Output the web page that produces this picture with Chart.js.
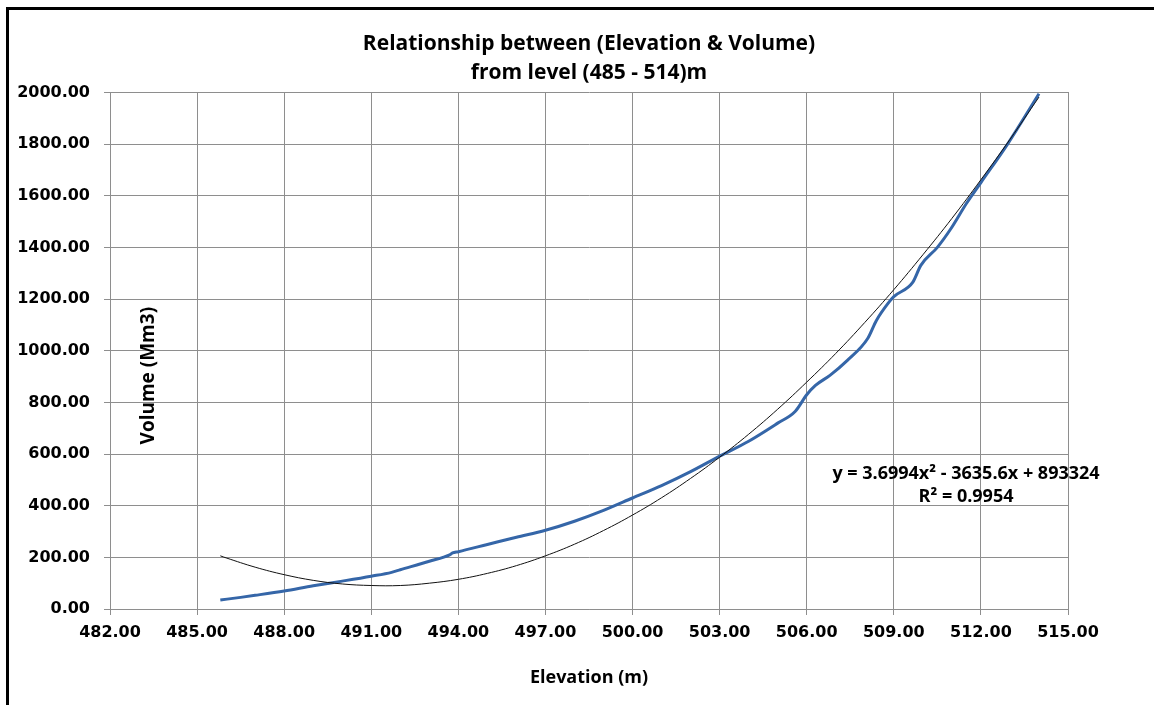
<!DOCTYPE html>
<html lang="en">
  <head>
    <meta charset="UTF-8" />
    <title>Elevation & Volume</title>
    <script src="https://cdn.jsdelivr.net/npm/chart.js"></script>
    <style>
      html,
      body {
        margin: 0;
        padding: 0;
        background: #fff;
      }
      .frame {
        position: absolute;
        left: 6px;
        top: 7px;
        width: 1200px;
        height: 800px;
        border-left: 3px solid #000;
        border-top: 3px solid #000;
      }
      .wrap {
        position: relative;
        width: 1154px;
        height: 705px;
        overflow: hidden;
      }
      canvas {
        position: absolute;
        left: 0;
        top: 0;
      }
    </style>
  </head>
  <body>
    <div class="wrap">
      <div class="frame"></div>
      <canvas id="myChart" width="1154" height="705"></canvas>
    </div>
    <script>
      const chartTitle = [
        "Relationship between (Elevation & Volume)",
        "from level (485 - 514)m",
      ];
      const xTitle = "Elevation (m)";
      const yTitle = "Volume (Mm3)";
      const equationLines = ["y = 3.6994x\u00b2 - 3635.6x + 893324", "R\u00b2 = 0.9954"];

      const elevation = [
        485.8, 486.5, 487, 488, 489, 490, 491, 491.7, 492, 493, 493.7, 493.8,
        494, 495, 496, 497, 498, 499, 500, 501, 502, 503, 504, 505, 505.6,
        506, 506.3, 506.8, 507.4, 508.1, 508.4, 508.8, 509, 509.65, 509.93,
        510.5, 510.97, 511.5, 512, 512.93, 514,
      ];
      const volume = [
        35, 45, 53, 70, 90, 108, 127, 142, 152, 185, 210, 217, 222, 250, 278,
        305, 340, 382, 430, 478, 532, 592, 650, 720, 765, 830, 866, 905, 963,
        1048, 1118, 1184, 1210, 1265, 1331, 1401, 1474, 1571, 1652, 1803, 1996,
      ];

      // polynomial trend line
      const trendElevation = [
        485.8, 486, 487, 488, 489, 490, 491, 492, 493, 494, 495, 496, 497, 498,
        499, 500, 501, 502, 503, 504, 505, 506, 507, 508, 509, 510, 511, 512,
        513, 514,
      ];
      const trendVolume = [
        206, 198, 162, 133, 111, 97, 91, 91, 100, 115, 138, 168, 206, 251, 304,
        364, 431, 506, 588, 677, 774, 879, 990, 1110, 1237, 1372, 1513, 1663,
        1819, 1983,
      ];

      const xMin = 482;
      const xMax = 515;
      const xStep = 3;
      const yMin = 0;
      const yMax = 2000;
      const yStep = 200;

      const narrowFont = "'Open Sans', sans-serif";
      const tickFont = { family: "'DejaVu Sans', sans-serif", size: 16, weight: "bold" };
      const gridColor = "#8e8e8e";

      const toPoints = (xs, ys) => xs.map((x, i) => ({ x: x, y: ys[i] }));

      // y title sits inside the plot, plus the trend equation
      const extraText = {
        id: "extraText",
        afterDatasetsDraw(chart) {
          const { ctx, chartArea } = chart;
          ctx.save();
          ctx.fillStyle = "#000";
          ctx.textAlign = "center";
          ctx.textBaseline = "middle";
          ctx.font = "bold 19px " + narrowFont;
          ctx.translate(chartArea.left + 39, chartArea.top + 283);
          ctx.rotate(-Math.PI / 2);
          ctx.fillText(yTitle, 0, 0);
          ctx.restore();

          ctx.save();
          ctx.fillStyle = "#000";
          ctx.textAlign = "center";
          ctx.textBaseline = "middle";
          ctx.font = "bold 18px " + narrowFont;
          ctx.fillText(equationLines[0], chartArea.left + 856, chartArea.top + 381);
          ctx.fillText(equationLines[1], chartArea.left + 856, chartArea.top + 404);
          ctx.restore();
        },
      };

      const ctx = document.getElementById("myChart").getContext("2d");
      const myChart = new Chart(ctx, {
        type: "scatter",
        data: {
          datasets: [
            {
              label: "Poly. (Volume)",
              data: toPoints(trendElevation, trendVolume),
              showLine: true,
              borderColor: "#111",
              borderWidth: 1,
              pointRadius: 0,
              tension: 0.4,
            },
            {
              label: "Volume",
              data: toPoints(elevation, volume),
              showLine: true,
              borderColor: "#3566a8",
              borderWidth: 3,
              pointRadius: 0,
              cubicInterpolationMode: "monotone",
            },
          ],
        },
        options: {
          responsive: false,
          animation: false,
          // shifted so the title centres over the plot area
          layout: { padding: { left: 12, right: -12, top: 0, bottom: 0 } },
          plugins: {
            legend: { display: false },
            tooltip: { enabled: false },
            title: {
              display: true,
              text: chartTitle,
              color: "#000",
              font: { family: narrowFont, size: 21, weight: "bold", lineHeight: 1.35 },
              padding: { top: 30, bottom: 6 },
            },
          },
          scales: {
            x: {
              type: "linear",
              min: xMin,
              max: xMax,
              ticks: {
                stepSize: xStep,
                color: "#000",
                font: tickFont,
                padding: 8,
                maxRotation: 0,
                callback: (v) => v.toFixed(2),
              },
              grid: { color: gridColor, tickLength: 6 },
              border: { color: gridColor },
              title: {
                display: true,
                text: xTitle,
                color: "#000",
                font: { family: narrowFont, size: 18, weight: "bold", lineHeight: 1.2 },
                padding: { top: 0, bottom: 16 },
              },
              afterFit: (scale) => {
                scale.height = 96;
              },
            },
            y: {
              min: yMin,
              max: yMax,
              ticks: {
                stepSize: yStep,
                color: "#000",
                font: tickFont,
                padding: 14,
                callback: (v) => v.toFixed(2),
              },
              grid: { color: gridColor, tickLength: 6 },
              border: { color: gridColor },
              afterFit: (scale) => {
                scale.width = 98;
              },
            },
            yRight: {
              position: "right",
              display: true,
              min: yMin,
              max: yMax,
              ticks: { display: false },
              grid: { display: false, drawTicks: false },
              border: { color: gridColor },
              afterFit: (scale) => {
                scale.width = 98;
              },
            },
          },
        },
        plugins: [extraText],
      });
    </script>
  </body>
</html>
